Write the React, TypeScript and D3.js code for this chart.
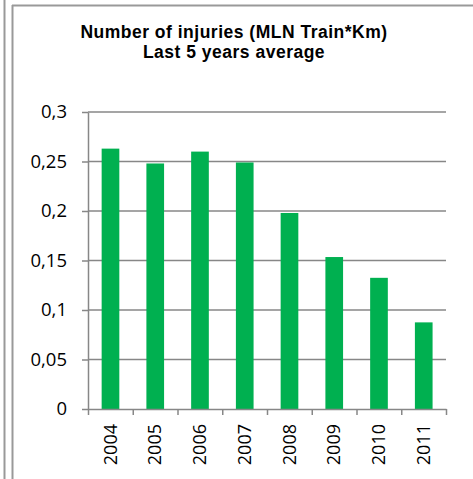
import React, { useRef, useEffect } from 'react';
import * as d3 from 'd3';

const years = ['2004', '2005', '2006', '2007', '2008', '2009', '2010', '2011'];
const injuries = [0.263, 0.248, 0.26, 0.249, 0.198, 0.1535, 0.1325, 0.0875];
const yTicks = [0, 0.05, 0.1, 0.15, 0.2, 0.25, 0.3];
const titleLines = ['Number of injuries (MLN Train*Km)', 'Last 5 years average'];

function InjuriesChart(props: { width: number; height: number }) {
    const { width, height } = props;
    const svgRef = useRef<SVGSVGElement>(null);

    const margin = { top: 112, right: 27, bottom: 70, left: 88 };
    const innerWidth = width - margin.left - margin.right;
    const innerHeight = height - margin.top - margin.bottom;
    const font = '"Open Sans", sans-serif';
    const gray = '#878787';

    useEffect(() => {
        const svg = d3.select(svgRef.current);
        svg.selectAll('*').remove();

        // outer frames
        svg.append('line').attr('x1', 4.5).attr('x2', 4.5).attr('y1', 0).attr('y2', height)
            .attr('stroke', '#999').attr('stroke-width', 2);
        svg.append('line').attr('x1', 12.5).attr('x2', 12.5).attr('y1', 5).attr('y2', height)
            .attr('stroke', '#999').attr('stroke-width', 2);
        svg.append('line').attr('x1', 12).attr('x2', width).attr('y1', 5.5).attr('y2', 5.5)
            .attr('stroke', '#999').attr('stroke-width', 2);

        // title, two lines
        svg.selectAll('.title').data(titleLines)
            .enter().append('text')
            .attr('class', 'title')
            .attr('x', 234)
            .attr('y', (d, i) => 37.5 + i * 20.5)
            .attr('text-anchor', 'middle')
            .attr('font-family', '"Liberation Sans", Arial, sans-serif')
            .attr('font-weight', 'bold')
            .attr('font-size', 17.5)
            .attr('letter-spacing', 0.5)
            .text(d => d);

        const xScale = d3.scaleBand().domain(years).range([0, innerWidth]).padding(0);
        const yScale = d3.scaleLinear().domain([0, 0.3]).range([innerHeight, 0]);
        const edgeScale = d3.scaleLinear().domain([0, years.length]).range([0, innerWidth]);

        const g = svg.append('g').attr('transform', `translate(${margin.left},${margin.top})`);

        g.selectAll('.grid').data(yTicks.filter(t => t > 0))
            .enter().append('line')
            .attr('class', 'grid')
            .attr('x1', 0).attr('x2', innerWidth)
            .attr('y1', d => yScale(d)).attr('y2', d => yScale(d))
            .attr('stroke', gray).attr('stroke-width', 1.5);

        const bw = xScale.bandwidth();
        g.selectAll('rect').data(injuries)
            .enter().append('rect')
            .attr('x', (d, i) => (xScale(years[i]) as number) + bw * 0.305)
            .attr('y', d => yScale(d))
            .attr('width', bw * 0.395)
            .attr('height', d => innerHeight - yScale(d))
            .attr('fill', '#00B050');

        const yAxis = g.append('g').call(
            d3.axisLeft(yScale)
                .tickValues(yTicks)
                .tickSize(6)
                .tickSizeOuter(0)
                .tickPadding(15)
                .tickFormat(d => String(d).replace('.', ','))
        );
        yAxis.selectAll('path,line').attr('stroke', gray).attr('stroke-width', 1.5);
        yAxis.selectAll('text').attr('font-family', font).attr('font-size', 18.5).attr('fill', '#000');

        const xAxis = g.append('g')
            .attr('transform', `translate(0,${innerHeight})`)
            .call(
                d3.axisBottom(edgeScale)
                    .tickValues(d3.range(years.length + 1))
                    .tickSize(6)
                    .tickSizeOuter(0)
                    .tickFormat(() => '')
            );
        xAxis.selectAll('path,line').attr('stroke', gray).attr('stroke-width', 1.5);

        g.selectAll('.year').data(years)
            .enter().append('text')
            .attr('class', 'year')
            .attr('transform', d => `translate(${(xScale(d) as number) + bw / 2},${innerHeight + 15}) rotate(-90)`)
            .attr('text-anchor', 'end')
            .attr('dy', '0.35em')
            .attr('font-family', font)
            .attr('font-size', 18)
            .text(d => d);
    });

    return (
        <svg ref={svgRef} width={width} height={height}
            style={{ position: 'absolute', left: 0, top: 0, background: '#fff' }} />
    );
}

export default function App() {
    return <InjuriesChart width={473} height={479} />;
}
